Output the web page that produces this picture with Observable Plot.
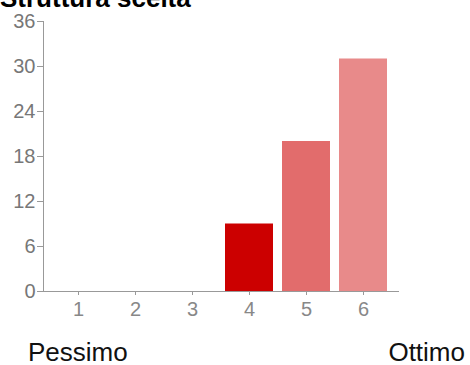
<!DOCTYPE html>
<html>
<head>
<meta charset="utf-8">
<script src="https://cdn.jsdelivr.net/npm/d3@7"></script>
<script src="https://cdn.jsdelivr.net/npm/@observablehq/plot@0.6"></script>
<style>
  html, body { margin: 0; padding: 0; background: #fff; }
  #wrap { position: relative; width: 470px; height: 365px; overflow: hidden; font-family: "Liberation Sans", Arial, sans-serif; }
  #title { position: absolute; left: 0; top: -15px; font-weight: bold; font-size: 26px; line-height: 26px; color: #000; white-space: nowrap; }
  #chart { position: absolute; left: 0; top: 0; }
  #low { position: absolute; left: 28px; top: 340px; font-size: 26px; line-height: 24px; color: #111; white-space: nowrap; }
  #high { position: absolute; right: 5px; top: 340px; font-size: 26px; line-height: 24px; color: #111; white-space: nowrap; }
</style>
</head>
<body>
<div id="wrap">
  <div id="chart"></div>
  <div id="title">Struttura scelta</div>
  <div id="low">Pessimo</div>
  <div id="high">Ottimo</div>
</div>
<script>
const categories = [1, 2, 3, 4, 5, 6];
const counts = [0, 0, 0, 9, 20, 31];
const yTicks = [0, 6, 12, 18, 24, 30, 36];
const barColors = ["#cc0000", "#cc0000", "#cc0000", "#cc0000", "#e26c6c", "#e88a8a"];

const data = categories.map((c, i) => ({cat: c, n: counts[i]}));

const chart = Plot.plot({
  width: 470,
  height: 330,
  marginTop: 21,
  marginBottom: 39,
  marginLeft: 43,
  marginRight: 71,
  style: {fontFamily: "'Liberation Sans', Arial, sans-serif", fontSize: "20px", color: "#777", background: "transparent"},
  x: {type: "band", domain: categories, padding: 0.155, label: null},
  y: {domain: [0, 36], label: null},
  color: {domain: categories, range: barColors},
  marks: [
    Plot.barY(data.filter(d => d.n > 0), {x: "cat", y: "n", fill: "cat"}),
    Plot.axisY({ticks: yTicks, tickSize: 6, tickPadding: 2, stroke: "#999", fill: "#777", fontSize: 20, label: null}),
    Plot.axisX({tickSize: 4, tickPadding: 6, stroke: "#999", fill: "#888", fontSize: 20, label: null}),
    Plot.frame({anchor: "left", stroke: "#999"}),
    Plot.ruleY([0], {stroke: "#999"})
  ]
});
document.getElementById("chart").appendChild(chart);
</script>
</body>
</html>
